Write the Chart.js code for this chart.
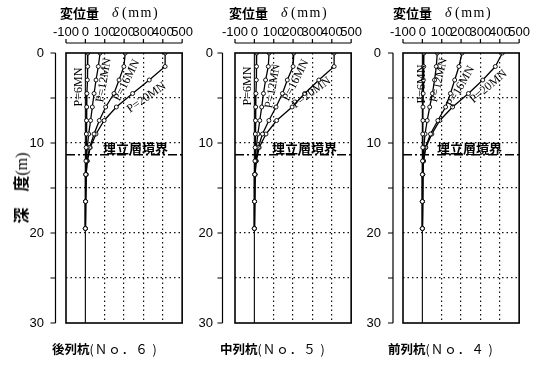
<!DOCTYPE html>
<html><head><meta charset="utf-8">
<script src="https://cdn.jsdelivr.net/npm/chart.js@4.4.0/dist/chart.umd.min.js"></script>
<style>
html,body{margin:0;padding:0;background:#fff;}
#wrap{position:relative;width:552px;height:365px;overflow:hidden;background:#fff;}
canvas{position:absolute;top:0;}
.t{position:absolute;white-space:nowrap;color:#000;line-height:1;}
.jb{font-family:"Noto Sans CJK JP";font-weight:700;}
.sf{font-family:"Liberation Serif";font-weight:400;}
.lbl{font-family:"Liberation Serif";font-size:12px;transform-origin:center center;}
</style></head><body><div id="wrap"></div>
<script>
// ---- data ----
const depths=[0,1.5,3,4.5,6,7.5,9,10.5,12,13.5,16.5,19.5];
const loadNames=['P=6MN','P=12MN','P=16MN','P=20MN'];
const xTickValues=[-100,0,100,200,300,400,500];
const depthTickValues=[0,5,10,15,20,25,30];
const depthLabelValues=[0,10,20,30];
const boundaryDepth=11.3;
const boundaryName='埋立層境界';
const pileNames=['後列杭','中列杭','前列杭'];
const pileNos=['６','５','４'];
// 後列杭 No.6
const no6_6MN=[13,12,10,8,7,6,5,4,3,2,1,0];
const no6_12MN=[76,67,55,45,36,27,17,10,5,2,1,0];
const no6_16MN=[206,199,174,148,105,72,45,22,9,4,1,0];
const no6_20MN=[412,412,330,244,160,97,55,25,10,4,1,0];
// 中列杭 No.5
const no5_6MN=[12,11,10,8,7,6,5,4,3,2,1,0];
const no5_12MN=[76,72,58,47,38,28,18,10,5,2,1,0];
const no5_16MN=[204,200,170,145,112,75,42,20,8,3,1,0];
const no5_20MN=[412,412,333,260,195,115,60,25,10,4,1,0];
// 前列杭 No.4
const no4_6MN=[8,7,5,4,3,3,2,2,1,0,0,0];
const no4_12MN=[77,72,63,52,38,25,14,7,3,1,0,0];
const no4_16MN=[205,189,167,145,120,80,42,16,6,2,0,0];
const no4_20MN=[413,377,312,238,156,90,49,18,6,2,0,0];
const panelSeries=[[no6_6MN,no6_12MN,no6_16MN,no6_20MN],[no5_6MN,no5_12MN,no5_16MN,no5_20MN],[no4_6MN,no4_12MN,no4_16MN,no4_20MN]];

// ---- layout ----
const boxLeft=[66,235,403], boxW=122, boxTop=53, boxBottom=323, H=365;
const axisGap=[10.5,12.5,10];
const padL=50, padR=18;
const labelPos=[
 [[78,87,-90],[103,80,-80],[126,80,-63],[146,97,-35]],
 [[247,86,-90],[272,86,-80],[295,80,-63],[311,92,-36]],
 [[421,84,-90],[438,80,-77],[460,86,-60],[488,86,-40]]
];
const wrap=document.getElementById('wrap');
function addText(html,cls,style){const d=document.createElement('div');d.className='t '+cls;d.innerHTML=html;Object.assign(d.style,style);wrap.appendChild(d);return d;}

Chart.defaults.animation=false;
Chart.defaults.devicePixelRatio=1;

const tickFont={family:'"Liberation Sans Narrow","Liberation Sans",Arial',size:13};

function makePanel(i){
  const cv=document.createElement('canvas');
  const W=padL+boxW+padR;
  cv.width=W;cv.height=H;cv.style.width=W+'px';cv.style.height=H+'px';
  cv.style.left=(boxLeft[i]-padL)+'px';
  wrap.appendChild(cv);
  const ds=panelSeries[i].map((vals,k)=>({
    label:loadNames[k],
    data:vals.map((v,j)=>({x:v,y:depths[j]})),
    borderColor:'#000',borderWidth:1.3,
    pointRadius:2,pointBorderWidth:0.9,pointBackgroundColor:'#fff',pointBorderColor:'#000',
    tension:0,fill:false
  }));
  ds.push({label:'zero',data:[{x:0,y:depthTickValues[0]},{x:0,y:depthTickValues[depthTickValues.length-1]}],borderColor:'#000',borderWidth:1.1,pointRadius:0});
  ds.push({label:boundaryName,data:[{x:xTickValues[0],y:boundaryDepth},{x:xTickValues[xTickValues.length-1],y:boundaryDepth}],borderColor:'#000',borderWidth:1.4,borderDash:[9,3,2,3],pointRadius:0});
  const gap=axisGap[i];
  const deco={id:'deco',afterDraw(chart){
    const {ctx,chartArea:a,scales:{x,y}}=chart;
    ctx.save();ctx.strokeStyle='#000';ctx.setLineDash([]);
    ctx.lineWidth=1.6;ctx.strokeRect(a.left,a.top,a.right-a.left,a.bottom-a.top);
    const ay=a.top-10;ctx.lineWidth=1.2;ctx.beginPath();
    ctx.moveTo(x.getPixelForValue(xTickValues[0]),ay);ctx.lineTo(x.getPixelForValue(xTickValues[xTickValues.length-1]),ay);
    x.ticks.forEach(t=>{const px=x.getPixelForValue(t.value);ctx.moveTo(px,ay);ctx.lineTo(px,ay-4);});
    ctx.stroke();
    const ax=a.left-gap;ctx.beginPath();
    ctx.moveTo(ax,y.getPixelForValue(depthTickValues[0]));ctx.lineTo(ax,y.getPixelForValue(depthTickValues[depthTickValues.length-1]));
    y.ticks.forEach(t=>{const py=y.getPixelForValue(t.value);ctx.moveTo(ax,py);ctx.lineTo(ax-5,py);});
    ctx.stroke();ctx.restore();
  }};
  new Chart(cv,{type:'line',data:{datasets:ds},plugins:[deco],options:{
    responsive:false,animation:false,
    layout:{padding:{left:0,top:0,right:padR,bottom:H-boxBottom}},
    plugins:{legend:{display:false},tooltip:{enabled:false}},
    scales:{
      x:{type:'linear',position:'top',min:xTickValues[0],max:xTickValues[xTickValues.length-1],
        afterFit:s=>{s.height=boxTop;},
        afterBuildTicks:s=>{s.ticks=xTickValues.map(v=>({value:v}));},
        ticks:{autoSkip:false,maxRotation:0,minRotation:0,padding:13,color:'#000',font:tickFont,callback:v=>String(v)},
        grid:{drawTicks:false,lineWidth:1.2,color:c=>(c.tick&&(c.tick.value===xTickValues[0]||c.tick.value===0||c.tick.value===xTickValues[xTickValues.length-1]))?'rgba(0,0,0,0)':'#111'},
        border:{display:false,dash:[1.5,3]}},
      y:{type:'linear',reverse:true,min:depthTickValues[0],max:depthTickValues[depthTickValues.length-1],
        afterFit:s=>{s.width=padL;},
        afterBuildTicks:s=>{s.ticks=depthTickValues.map(v=>({value:v}));},
        ticks:{autoSkip:false,padding:22,color:'#000',font:tickFont,callback:v=>depthLabelValues.includes(v)?String(v):''},
        grid:{drawTicks:false,lineWidth:1.2,color:c=>(c.tick&&(c.tick.value===depthTickValues[0]||c.tick.value===depthTickValues[depthTickValues.length-1]))?'rgba(0,0,0,0)':'#111'},
        border:{display:false,dash:[1.5,3]}}
    }}});
  // texts
  const tl=[60,229,393][i];
  addText('変位量','jb',{left:tl+'px',top:'6px',fontSize:'13px'});
  addText('δ','sf',{left:(tl+52)+'px',top:'6px',fontSize:'14px',fontStyle:'italic'});
  addText('(mm)','sf',{left:(tl+62)+'px',top:'6px',fontSize:'14px',letterSpacing:'1.5px'});
  addText(boundaryName,'jb',{left:[103,272,437][i]+'px',top:'141px',fontSize:'13px'});
  const bl=[52,220,388][i];
  addText(pileNames[i]+'<span style="font-weight:400;letter-spacing:1px">(Ｎｏ．'+pileNos[i]+' )</span>','jb',{left:bl+'px',top:'343px',fontSize:'12.5px'});
  labelPos[i].forEach((p,k)=>{
    addText(loadNames[k],'lbl',{left:p[0]+'px',top:p[1]+'px',transform:'translate(-50%,-50%) rotate('+p[2]+'deg)'});
  });
}
[0,1,2].forEach(makePanel);
addText('<span class="jb">深　度</span><span class="sf">(m)</span>','',{left:'21px',top:'188px',fontSize:'16px',transform:'translate(-50%,-50%) rotate(-90deg)'});
</script></body></html>
